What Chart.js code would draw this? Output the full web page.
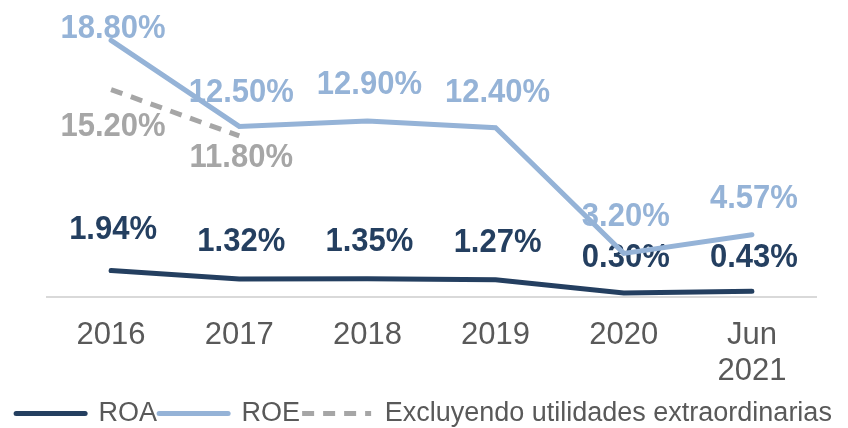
<!DOCTYPE html>
<html>
<head>
<meta charset="utf-8">
<script src="https://cdn.jsdelivr.net/npm/chart.js@4/dist/chart.umd.min.js"></script>
<style>
  html, body { margin: 0; padding: 0; background: #fff; }
  #wrap { width: 848px; height: 428px; }
</style>
</head>
<body>
<div id="wrap"><canvas id="ratios"></canvas></div>
<script>
var years = ['2016', '2017', '2018', '2019', '2020', ['Jun', '2021']];
var roa = [1.94, 1.32, 1.35, 1.27, 0.30, 0.43];
var roe = [18.80, 12.50, 12.90, 12.40, 3.20, 4.57];
var roeExcl = [15.20, 11.80, null, null, null, null];

var navy = '#243F60';
var lightBlue = '#95B3D7';
var gray = '#A6A6A6';
var fontFamily = '"Liberation Sans", Arial, sans-serif';

// value labels next to each point, placed from the point positions given by the scales
var valueLabels = {
    id: 'valueLabels',
    beforeDatasetsDraw: function(chart) {
        var ctx = chart.ctx;
        chart.data.datasets.forEach(function(ds, i) {
            var meta = chart.getDatasetMeta(i);
            meta.data.forEach(function(pt, j) {
                var v = ds.data[j];
                if (v === null || v === undefined) return;
                var dy = ds.labelDy[j];
                ctx.save();
                ctx.translate(pt.x + 2, pt.y + dy);
                ctx.scale(1, 1.08);
                ctx.font = 'bold 31px ' + fontFamily;
                ctx.textAlign = 'center';
                ctx.textBaseline = 'middle';
                ctx.fillStyle = ds.borderColor;
                ctx.fillText(v.toFixed(2) + '%', 0, 0);
                ctx.restore();
            });
        });
    }
};

function fixWidth(w) {
    return function(scale) { scale.width = w; };
}

// legend entries drawn as short line samples, dashed where the series is dashed
function lineLabels(chart) {
    var items = Chart.defaults.plugins.legend.labels.generateLabels(chart);
    items.forEach(function(item) {
        var ds = chart.data.datasets[item.datasetIndex];
        item.strokeStyle = ds.borderColor;
        item.fillStyle = ds.borderColor;
        item.lineWidth = 5;
        item.lineDash = ds.borderDash || [];
        item.lineCap = ds.borderDash ? 'butt' : 'round';
        item.pointStyle = 'line';
    });
    return items;
}

var ctx = document.getElementById('ratios').getContext('2d');
var config = {
    type: 'line',
    data: {
        labels: years,
        datasets: [{
            label: 'ROA',
            data: roa,
            borderColor: navy,
            backgroundColor: navy,
            borderWidth: 5,
            borderCapStyle: 'round',
            pointRadius: 0,
            labelDy: [-41, -37, -37, -37, -35, -33]
        }, {
            label: 'ROE',
            data: roe,
            borderColor: lightBlue,
            backgroundColor: lightBlue,
            borderWidth: 5,
            borderCapStyle: 'round',
            pointRadius: 0,
            labelDy: [-12, -34, -36, -35, -37, -36]
        }, {
            label: 'Excluyendo utilidades extraordinarias',
            data: roeExcl,
            borderColor: gray,
            backgroundColor: gray,
            borderWidth: 5,
            borderDash: [12, 9],
            pointRadius: 0,
            labelDy: [37, 22]
        }]
    },
    options: {
        responsive: true,
        maintainAspectRatio: false,
        animation: false,
        layout: { padding: { left: 0, right: 0, top: 24, bottom: -9 } },
        plugins: {
            legend: {
                position: 'bottom',
                labels: {
                    usePointStyle: true,
                    pointStyle: 'line',
                    pointStyleWidth: 69,
                    color: '#595959',
                    padding: 2,
                    font: { family: fontFamily, size: 27 },
                    generateLabels: lineLabels
                }
            },
            tooltip: { enabled: false }
        },
        scales: {
            x: {
                offset: true,
                grid: { display: false },
                border: { display: true, color: '#D9D9D9', width: 2 },
                ticks: {
                    color: '#595959',
                    maxRotation: 0,
                    padding: 12,
                    font: { family: fontFamily, size: 31, lineHeight: 1.16 }
                },
                afterFit: function(scale) { scale.height -= 3; }
            },
            y: {
                min: 0,
                max: 20,
                grid: { display: false },
                border: { display: false },
                ticks: { display: false },
                afterFit: fixWidth(47)
            },
            yRight: {
                position: 'right',
                min: 0,
                max: 20,
                grid: { display: false },
                border: { display: false },
                ticks: { display: false },
                afterFit: fixWidth(32)
            }
        }
    },
    plugins: [valueLabels]
};

var chart = new Chart(ctx, config);
</script>
</body>
</html>
